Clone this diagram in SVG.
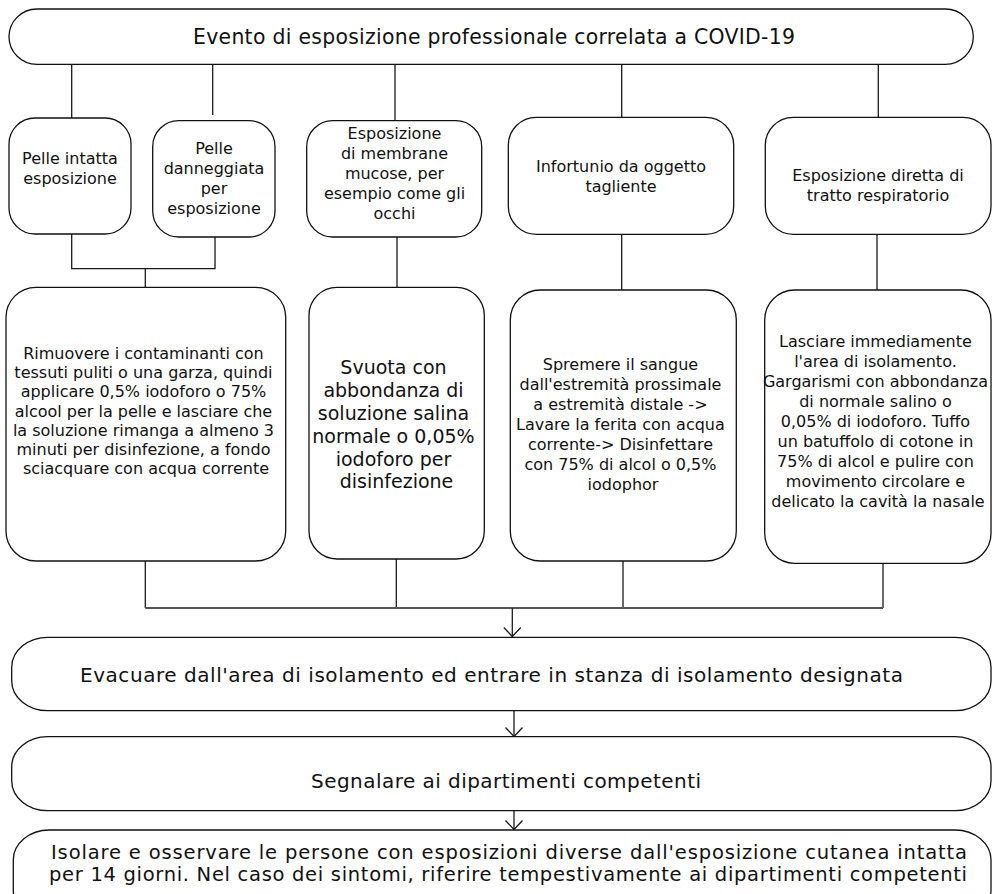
<svg xmlns="http://www.w3.org/2000/svg" width="996" height="894" viewBox="0 0 996 894">
  <defs>
    <style>
      .box { fill: #ffffff; stroke: #111111; stroke-width: 1.3; }
      .wire { fill: none; stroke: #1a1a1a; stroke-width: 1.3; }
      .bus { fill: none; stroke: #555555; stroke-width: 2; }
      .arrow { fill: none; stroke: #1a1a1a; stroke-width: 1.3; marker-end: url(#vee); }
      text { font-family: "DejaVu Sans", "Liberation Sans", sans-serif; fill: #111111; text-anchor: middle; }
      .s16 { font-size: 16px; }
      .s19 { font-size: 19px; }
      .s20 { font-size: 20.4px; }
      .big { font-size: 20px; }
      .note { font-size: 19.5px; }
    </style>
    <!-- open "V" head, drawn along +x so orient=auto follows the line -->
    <marker id="vee" viewBox="0 0 11 19" refX="10" refY="9.5" markerWidth="11" markerHeight="19" markerUnits="userSpaceOnUse" orient="auto">
      <path d="M1,1 L10,9.5 L1,18" fill="none" stroke="#1a1a1a" stroke-width="1.3"/>
    </marker>
  </defs>
  <rect width="996" height="894" fill="#ffffff"/>

  <!-- connectors -->
  <g id="connectors">
    <line class="wire" x1="71.7" y1="64" x2="71.7" y2="118"/>
    <line class="wire" x1="212.7" y1="64" x2="212.7" y2="115"/>
    <line class="wire" x1="395" y1="64" x2="395" y2="121"/>
    <line class="wire" x1="621.7" y1="64" x2="621.7" y2="117"/>
    <line class="wire" x1="878.3" y1="64" x2="878.3" y2="117"/>

    <polyline class="wire" points="71.7,234 71.7,268.7 215,268.7 215,237"/>
    <line class="wire" x1="145.3" y1="268.7" x2="145.3" y2="287"/>
    <line class="wire" x1="397" y1="237" x2="397" y2="287"/>
    <line class="wire" x1="621.7" y1="234" x2="621.7" y2="290"/>
    <line class="wire" x1="877" y1="234" x2="877" y2="290"/>

    <line class="wire" x1="145.3" y1="561" x2="145.3" y2="608"/>
    <line class="wire" x1="396.3" y1="559" x2="396.3" y2="608"/>
    <line class="wire" x1="623" y1="561" x2="623" y2="608"/>
    <line class="wire" x1="883" y1="563" x2="883" y2="608"/>
    <line class="bus" x1="145.3" y1="608" x2="883" y2="608"/>

    <line class="arrow" x1="512.3" y1="608" x2="512.3" y2="636.5"/>
    <line class="arrow" x1="514" y1="711" x2="514" y2="736.5"/>
    <line class="arrow" x1="514" y1="811" x2="514" y2="829.5"/>
  </g>

  <!-- top event -->
  <g id="event">
    <rect class="box" x="9" y="9" width="964.3" height="55.3" rx="28" ry="28"/>
    <text class="s20" x="494" y="44" textLength="602">Evento di esposizione professionale correlata a COVID-19</text>
  </g>

  <!-- exposure types -->
  <g id="skin-intact">
    <rect class="box" x="9" y="118" width="122" height="116" rx="26" ry="26"/>
    <text class="s16"><tspan x="70" y="164.3">Pelle intatta</tspan><tspan x="70" y="184.3">esposizione</tspan></text>
  </g>
  <g id="skin-damaged">
    <rect class="box" x="152.7" y="120.7" width="122.3" height="116.3" rx="26" ry="26"/>
    <text class="s16"><tspan x="214" y="154.3">Pelle</tspan><tspan x="214" y="174.3">danneggiata</tspan><tspan x="214" y="194.3">per</tspan><tspan x="214" y="214.3">esposizione</tspan></text>
  </g>
  <g id="mucosa">
    <rect class="box" x="306.7" y="120.7" width="175" height="116.3" rx="26" ry="26"/>
    <text class="s16"><tspan x="394.5" y="139.3">Esposizione</tspan><tspan x="394.5" y="159.3">di membrane</tspan><tspan x="394.5" y="179.3">mucose, per</tspan><tspan x="394.5" y="199.3">esempio come gli</tspan><tspan x="394.5" y="219.3">occhi</tspan></text>
  </g>
  <g id="sharp-injury">
    <rect class="box" x="508.3" y="117.3" width="225.4" height="117" rx="28" ry="28"/>
    <text class="s16"><tspan x="621" y="171.7">Infortunio da oggetto</tspan><tspan x="621" y="191.7">tagliente</tspan></text>
  </g>
  <g id="respiratory">
    <rect class="box" x="765.3" y="117.3" width="225.7" height="117" rx="28" ry="28"/>
    <text class="s16"><tspan x="878" y="181">Esposizione diretta di</tspan><tspan x="878" y="201">tratto respiratorio</tspan></text>
  </g>

  <!-- first aid actions -->
  <g id="skin-action">
    <rect class="box" x="6" y="287.3" width="279.7" height="273.7" rx="30" ry="30"/>
    <text class="s16">
      <tspan x="146" y="359">Rimuovere i contaminanti con</tspan>
      <tspan x="146" y="378.2">tessuti puliti o una garza, quindi</tspan>
      <tspan x="146" y="397.4">applicare 0,5% iodoforo o 75%</tspan>
      <tspan x="146" y="416.6">alcool per la pelle e lasciare che</tspan>
      <tspan x="146" y="435.8">la soluzione rimanga a almeno 3</tspan>
      <tspan x="146" y="455">minuti per disinfezione, a fondo</tspan>
      <tspan x="146" y="474.2">sciacquare con acqua corrente</tspan>
    </text>
  </g>
  <g id="mucosa-action">
    <rect class="box" x="309" y="287.3" width="175.3" height="271.7" rx="28" ry="28"/>
    <text class="s19">
      <tspan x="396.5" y="374.3">Svuota con</tspan>
      <tspan x="396.5" y="397.1">abbondanza di</tspan>
      <tspan x="396.5" y="419.9">soluzione salina</tspan>
      <tspan x="396.5" y="442.7">normale o 0,05%</tspan>
      <tspan x="396.5" y="465.5">iodoforo per</tspan>
      <tspan x="396.5" y="488.3">disinfezione</tspan>
    </text>
  </g>
  <g id="sharp-action">
    <rect class="box" x="510.3" y="290" width="226" height="271" rx="30" ry="30"/>
    <text class="s16">
      <tspan x="623" y="370">Spremere il sangue</tspan>
      <tspan x="623" y="390">dall'estremità prossimale</tspan>
      <tspan x="623" y="410">a estremità distale -&gt;</tspan>
      <tspan x="623" y="430">Lavare la ferita con acqua</tspan>
      <tspan x="623" y="450">corrente-&gt; Disinfettare</tspan>
      <tspan x="623" y="470">con 75% di alcol o 0,5%</tspan>
      <tspan x="623" y="490">iodophor</tspan>
    </text>
  </g>
  <g id="respiratory-action">
    <rect class="box" x="764.7" y="290" width="226.3" height="273.3" rx="30" ry="30"/>
    <text class="s16">
      <tspan x="878" y="346.7">Lasciare immediamente</tspan>
      <tspan x="878" y="366.7">l'area di isolamento.</tspan>
      <tspan x="878" y="386.7">Gargarismi con abbondanza</tspan>
      <tspan x="878" y="406.7">di normale salino o</tspan>
      <tspan x="878" y="426.7">0,05% di iodoforo. Tuffo</tspan>
      <tspan x="878" y="446.7">un batuffolo di cotone in</tspan>
      <tspan x="878" y="466.7">75% di alcol e pulire con</tspan>
      <tspan x="878" y="486.7">movimento circolare e</tspan>
      <tspan x="878" y="506.7">delicato la cavità la nasale</tspan>
    </text>
  </g>

  <!-- follow-up steps -->
  <g id="evacuate">
    <rect class="box" x="11.7" y="637.3" width="979.3" height="73.4" rx="36" ry="30"/>
    <text class="big" x="491.5" y="682" textLength="823">Evacuare dall'area di isolamento ed entrare in stanza di isolamento designata</text>
  </g>
  <g id="report">
    <rect class="box" x="11.7" y="736.7" width="979.3" height="74" rx="36" ry="30"/>
    <text class="big" x="506" y="788" textLength="390">Segnalare ai dipartimenti competenti</text>
  </g>
  <g id="isolate">
    <rect class="box" x="13.3" y="830" width="977.7" height="90" rx="36" ry="30"/>
    <text class="note" x="509" y="859" textLength="916">Isolare e osservare le persone con esposizioni diverse dall'esposizione cutanea intatta</text>
    <text class="note" x="508" y="880.5" textLength="918">per 14 giorni. Nel caso dei sintomi, riferire tempestivamente ai dipartimenti competenti</text>
  </g>
</svg>
